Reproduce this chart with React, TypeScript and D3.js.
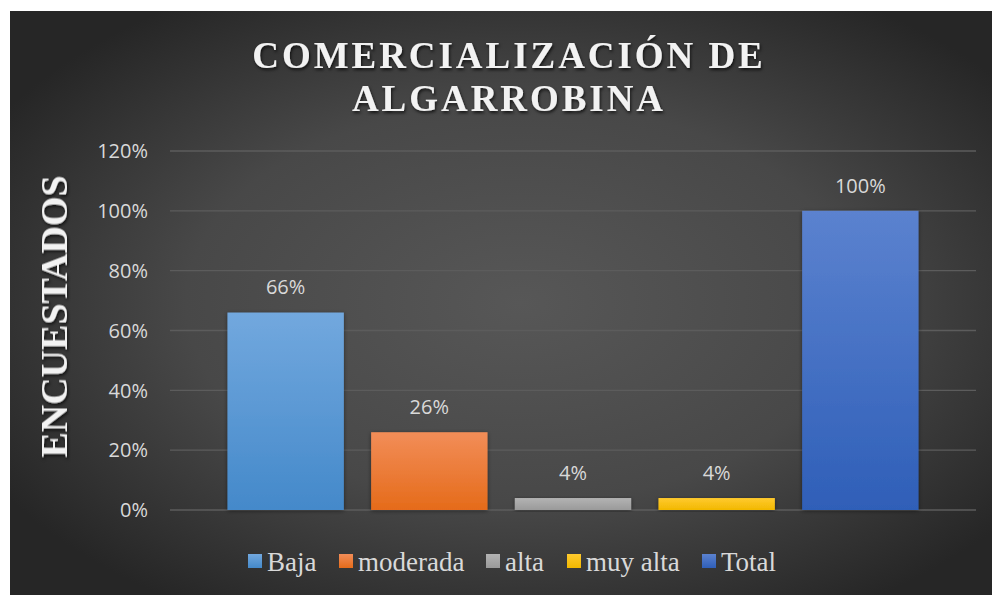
import React from "react";
import * as d3 from "d3";

const categories = ["Baja", "moderada", "alta", "muy alta", "Total"];
const values = [0.66, 0.26, 0.04, 0.04, 1.0];
const yTicks = [0, 0.2, 0.4, 0.6, 0.8, 1.0, 1.2];
const barColors = [
  ["#72a8de", "#4489ca"],
  ["#f28d58", "#e56b1a"],
  ["#b3b3b3", "#9a9a9a"],
  ["#ffca2e", "#f2b800"],
  ["#5b82cf", "#2f5fb8"],
];
const titleLines = ["COMERCIALIZACIÓN DE", "ALGARROBINA"];
const yTitle = "ENCUESTADOS";

const W = 992;
const H = 595;
const plot = { left: 170, right: 976, top: 151, bottom: 510 };

export default function App() {
  const x = d3
    .scaleBand<string>()
    .domain(categories)
    .range([plot.left, plot.right])
    .paddingInner(0.19)
    .paddingOuter(0.4);
  const y = d3.scaleLinear().domain([0, 1.2]).range([plot.bottom, plot.top]);
  const fmt = d3.format(".0%");

  const legendX = [248, 339, 486, 567, 702];

  return (
    <svg
      width={W}
      height={H}
      style={{ position: "absolute", left: 0, top: 0, display: "block" }}
    >
      <defs>
        <radialGradient id="bg" cx="52%" cy="50%" r="62%">
          <stop offset="0%" stopColor="#575757" />
          <stop offset="55%" stopColor="#484848" />
          <stop offset="100%" stopColor="#262626" />
        </radialGradient>
        {barColors.map((c, i) => (
          <linearGradient key={i} id={`bar${i}`} x1="0" y1="0" x2="0" y2="1">
            <stop offset="0%" stopColor={c[0]} />
            <stop offset="100%" stopColor={c[1]} />
          </linearGradient>
        ))}
        <filter id="barShadow" x="-10%" y="-10%" width="120%" height="120%">
          <feDropShadow dx="0" dy="1" stdDeviation="2" floodColor="#000" floodOpacity="0.45" />
        </filter>
        <filter id="textShadow" x="-5%" y="-20%" width="110%" height="140%">
          <feDropShadow dx="1" dy="2" stdDeviation="1.5" floodColor="#000" floodOpacity="0.7" />
        </filter>
      </defs>
      <rect x={0} y={0} width={W} height={H} fill="#ffffff" />
      <rect x={10} y={11} width={W - 10} height={H - 11} fill="url(#bg)" />

      {yTicks.map((t) => (
        <g key={t}>
          <line
            x1={plot.left}
            x2={plot.right}
            y1={y(t)}
            y2={y(t)}
            stroke="#5c5c5c"
            strokeWidth={1.3}
          />
          <text
            x={148}
            y={y(t)}
            dy="0.36em"
            textAnchor="end"
            fill="#d9d9d9"
            fontFamily="'Open Sans', 'Noto Sans', sans-serif"
            fontSize={20}
          >
            {fmt(t)}
          </text>
        </g>
      ))}

      {categories.map((c, i) => (
        <g key={c}>
          <rect
            x={x(c)}
            y={y(values[i])}
            width={x.bandwidth()}
            height={y(0) - y(values[i])}
            fill={`url(#bar${i})`}
            filter="url(#barShadow)"
          />
          <text
            x={(x(c) as number) + x.bandwidth() / 2}
            y={y(values[i]) - 25.5}
            dy="0.36em"
            textAnchor="middle"
            fill="#d9d9d9"
            fontFamily="'Open Sans', 'Noto Sans', sans-serif"
            fontSize={20}
          >
            {fmt(values[i])}
          </text>
        </g>
      ))}

      <g filter="url(#textShadow)">
        {titleLines.map((l, i) => (
          <text
            key={l}
            x={509}
            y={68 + i * 43}
            textAnchor="middle"
            fill="#f2f2f2"
            fontFamily="'Liberation Serif', 'DejaVu Serif', serif"
            fontWeight="bold"
            fontSize={37}
            letterSpacing={2.95}
          >
            {l}
          </text>
        ))}
        <text
          transform={`translate(67, 316.5) rotate(-90)`}
          textAnchor="middle"
          fill="#f2f2f2"
          fontFamily="'Liberation Serif', 'DejaVu Serif', serif"
          fontWeight="bold"
          fontSize={38}
        >
          {yTitle}
        </text>
      </g>

      {categories.map((c, i) => (
        <g key={`lg${c}`} transform={`translate(${legendX[i]}, 561)`}>
          <rect x={0} y={-7} width={14} height={14} fill={`url(#bar${i})`} />
          <text
            x={19}
            y={9.5}
            fill="#d9d9d9"
            fontFamily="'Liberation Serif', 'DejaVu Serif', serif"
            fontSize={27}
          >
            {c}
          </text>
        </g>
      ))}
    </svg>
  );
}
